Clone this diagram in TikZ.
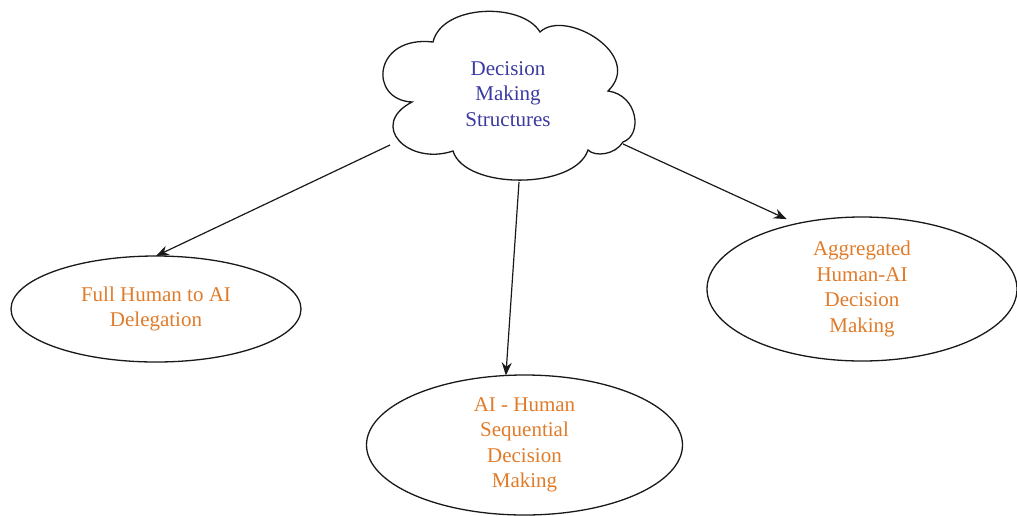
\documentclass[tikz,border=0pt]{standalone}
\usepackage{fontspec}
\setmainfont{Liberation Serif}
\usetikzlibrary{arrows.meta,shapes.geometric}
\definecolor{titleblue}{RGB}{58,58,160}
\definecolor{leaforange}{RGB}{224,123,42}
\tikzset{
  leaf/.style={draw=black!90, line width=1.3pt, ellipse, inner sep=0pt, outer sep=0pt,
    text=leaforange, align=center, font=\fontsize{21}{25.5}\selectfont},
  cloudline/.style={draw=black!90, line width=1.3pt, line join=miter},
  conn/.style={draw=black!90, line width=1.2pt, -{Stealth[length=13pt,width=10pt]}},
  title/.style={text=titleblue, align=center, font=\fontsize{21}{25.5}\selectfont, inner sep=0pt}
}
\begin{document}
\begin{tikzpicture}[x=1pt,y=-1pt]
\useasboundingbox (0,0) rectangle (1017,515);
% cloud outline
\path[cloudline] (433,42)
  .. controls (442,4) and (522,2) .. (540,32)
  .. controls (565,8) and (645,55) .. (608,91)
  .. controls (638,95) and (643,135) .. (623,142)
  .. controls (615,155) and (595,157) .. (588,150)
  .. controls (575,190) and (465,190) .. (453,151)
  .. controls (408,166) and (368,125) .. (412,102)
  .. controls (368,100) and (373,35) .. (433,42) -- cycle;
\node[title] (cloud) at (508,94) {Decision\\Making\\Structures};
\coordinate (s1) at (390,145);
\coordinate (s2) at (519,182);
\coordinate (s3) at (623,144);
% leaves
\node[leaf, minimum width=290pt, minimum height=106pt] (left) at (156,309) {Full Human to AI\\Delegation};
\node[leaf, minimum width=316pt, minimum height=140pt] (bottom) at (524.5,445) {AI - Human\\Sequential\\Decision\\Making};
\node[leaf, minimum width=310pt, minimum height=144pt] (right) at (862,289) {Aggregated\\Human-AI\\Decision\\Making};
% connectors
\draw[conn] (s1) -- (left.north);
\draw[conn] (s2) -- (bottom.105);
\draw[conn, shorten >=11pt] (s3) -- (right.135);
\end{tikzpicture}
\end{document}
